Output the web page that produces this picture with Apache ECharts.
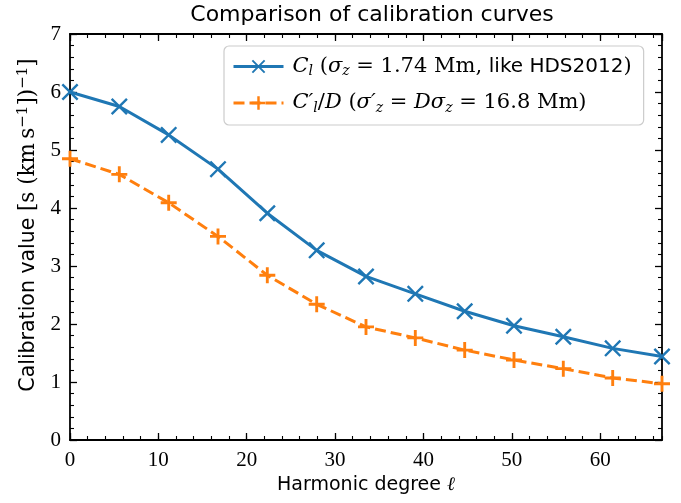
<!DOCTYPE html>
<html><head><meta charset="utf-8">
<script src="https://cdn.jsdelivr.net/npm/echarts@6/dist/echarts.min.js"></script>
<style>html,body{margin:0;padding:0;background:#fff}#c{width:681px;height:503px}</style>
</head><body><div id="c"></div>
<script>
// ---- data ----
const degrees = [0, 5.58, 11.17, 16.75, 22.33, 27.92, 33.5, 39.08, 44.67, 50.25, 55.83, 61.42, 67];
const calibC  = [6.00, 5.75, 5.26, 4.67, 3.91, 3.27, 2.82, 2.52, 2.22, 1.97, 1.78, 1.58, 1.44];
const calibCD = [4.85, 4.58, 4.09, 3.51, 2.84, 2.34, 1.95, 1.76, 1.55, 1.38, 1.23, 1.07, 0.97];
const seriesNames = ['C_l', "C'_l/D"];
const xRange = [0, 67];
const yRange = [0, 7];

// ---- styling ----
const SERIF = "'Liberation Serif', serif";
const MATH = "'DejaVu Serif', serif";
const SANS = "'DejaVu Sans', sans-serif";
const BLUE = '#1f77b4', ORANGE = '#ff7f0e';
const gridRect = {left: 70, right: 19, top: 34, bottom: 63};
const XSYM = 'path://M0,1L1,0L5,4L9,0L10,1L6,5L10,9L9,10L5,6L1,10L0,9L4,5Z';
const PSYM = 'path://M4.1,0H5.9V4.1H10V5.9H5.9V10H4.1V5.9H0V4.1H4.1Z';
const frameLine = {show: true, onZero: false, lineStyle: {color: '#000', width: 1.8}};
const majorTick = {show: true, inside: true, length: 7, lineStyle: {color: '#000', width: 1.3}};
const minorTickX = {show: true, inside: true, length: 4, lineStyle: {color: '#000', width: 1.1}};
const tickLabel = {fontFamily: SERIF, fontSize: 21, color: '#000'};

const richLegend = {
  i: {fontFamily: MATH, fontStyle: 'italic', fontSize: 21, color: '#000'},
  r: {fontFamily: MATH, fontSize: 21, color: '#000'},
  s: {fontFamily: SANS, fontSize: 20, color: '#000'},
  sub: {fontFamily: MATH, fontStyle: 'italic', fontSize: 14, color: '#000', padding: [10, 0, 0, 0]}
};
const legendText = {
  'C_l': '{i|C}{sub|l}{r| (}{i|σ}{sub|z}{r| = 1.74 Mm, }{s|like HDS2012}{r|)}',
  "C'_l/D": '{i|C′}{sub|l}{r|/}{i|D}{r| (}{i|σ′}{sub|z}{r| = }{i|Dσ}{sub|z}{r| = 16.8 Mm)}'
};

const chart = echarts.init(document.getElementById('c'), null, {renderer: 'canvas'});
chart.setOption({
  backgroundColor: '#fff',
  animation: false,
  title: {
    text: 'Comparison of calibration curves',
    left: 367, top: -1, textAlign: 'center',
    textStyle: {fontFamily: SANS, fontWeight: 'normal', fontSize: 22, color: '#000'}
  },
  grid: [Object.assign({}, gridRect), Object.assign({}, gridRect)],
  legend: {
    left: 224, top: 46,
    orient: 'vertical',
    itemWidth: 50, itemHeight: 17, itemGap: 14,
    padding: [10, 12, 10, 8],
    backgroundColor: 'rgba(255,255,255,0.85)',
    borderColor: '#cccccc', borderWidth: 1.2, borderRadius: 5,
    lineStyle: {width: 3},
    data: seriesNames,
    formatter: n => legendText[n],
    textStyle: {rich: richLegend, padding: [0, 0, 0, 4]}
  },
  xAxis: [
    {gridIndex: 0, type: 'value', position: 'bottom', min: xRange[0], max: xRange[1], interval: 10,
     axisLine: frameLine, axisTick: majorTick, splitLine: {show: false},
     axisLabel: Object.assign({showMaxLabel: false, margin: 10}, tickLabel),
     name: '{a|Harmonic degree }{b|ℓ}', nameLocation: 'middle', nameGap: 36,
     nameTextStyle: {rich: {a: {fontFamily: SANS, fontSize: 19, color: '#000'}, b: {fontFamily: MATH, fontStyle: 'italic', fontSize: 19, color: '#000'}}}},
    {gridIndex: 0, type: 'value', position: 'top', min: xRange[0], max: xRange[1], interval: 10,
     axisLine: frameLine, axisTick: majorTick, splitLine: {show: false}, axisLabel: {show: false}},
    {gridIndex: 1, type: 'value', position: 'bottom', min: xRange[0], max: xRange[1], interval: 2,
     axisLine: {show: false}, axisTick: minorTickX, splitLine: {show: false}, axisLabel: {show: false}},
    {gridIndex: 1, type: 'value', position: 'top', min: xRange[0], max: xRange[1], interval: 2,
     axisLine: {show: false}, axisTick: minorTickX, splitLine: {show: false}, axisLabel: {show: false}}
  ],
  yAxis: [
    {gridIndex: 0, type: 'value', position: 'left', min: yRange[0], max: yRange[1], interval: 1,
     axisLine: frameLine, axisTick: majorTick, splitLine: {show: false},
     minorTick: {show: true, splitNumber: 5, length: 4, lineStyle: {color: '#000', width: 1.1}},
     minorSplitLine: {show: false},
     axisLabel: Object.assign({margin: 9}, tickLabel),
     name: '{a|Calibration value }{m|[s (km\u2009s}{sup|−1}{m|])}{sup|−1}{m|]}',
     nameLocation: 'middle', nameGap: 23,
     nameTextStyle: {padding: [0, 0, 0, 24], rich: {
       a: {fontFamily: SANS, fontSize: 20.5, color: '#000'},
       m: {fontFamily: MATH, fontSize: 21.5, color: '#000'},
       sup: {fontFamily: MATH, fontSize: 15, color: '#000', padding: [0, 0, 11, 0]}
     }}},
    {gridIndex: 0, type: 'value', position: 'right', min: yRange[0], max: yRange[1], interval: 1,
     axisLine: frameLine, axisTick: majorTick, splitLine: {show: false},
     minorTick: {show: true, splitNumber: 5, length: 4, lineStyle: {color: '#000', width: 1.1}},
     minorSplitLine: {show: false}, axisLabel: {show: false}},
    {gridIndex: 1, type: 'value', show: false, min: yRange[0], max: yRange[1]}
  ],
  series: [
    {name: seriesNames[0], type: 'line', xAxisIndex: 0, yAxisIndex: 0,
     data: degrees.map((x, i) => [x, calibC[i]]),
     symbol: XSYM, symbolSize: 17, showAllSymbol: true,
     lineStyle: {color: BLUE, width: 3, type: 'solid'},
     itemStyle: {color: BLUE}, z: 3},
    {name: seriesNames[1], type: 'line', xAxisIndex: 0, yAxisIndex: 0,
     data: degrees.map((x, i) => [x, calibCD[i]]),
     symbol: PSYM, symbolSize: 16, showAllSymbol: true,
     lineStyle: {color: ORANGE, width: 3, type: [11, 5]},
     itemStyle: {color: ORANGE}, z: 2}
  ]
});
</script></body></html>
